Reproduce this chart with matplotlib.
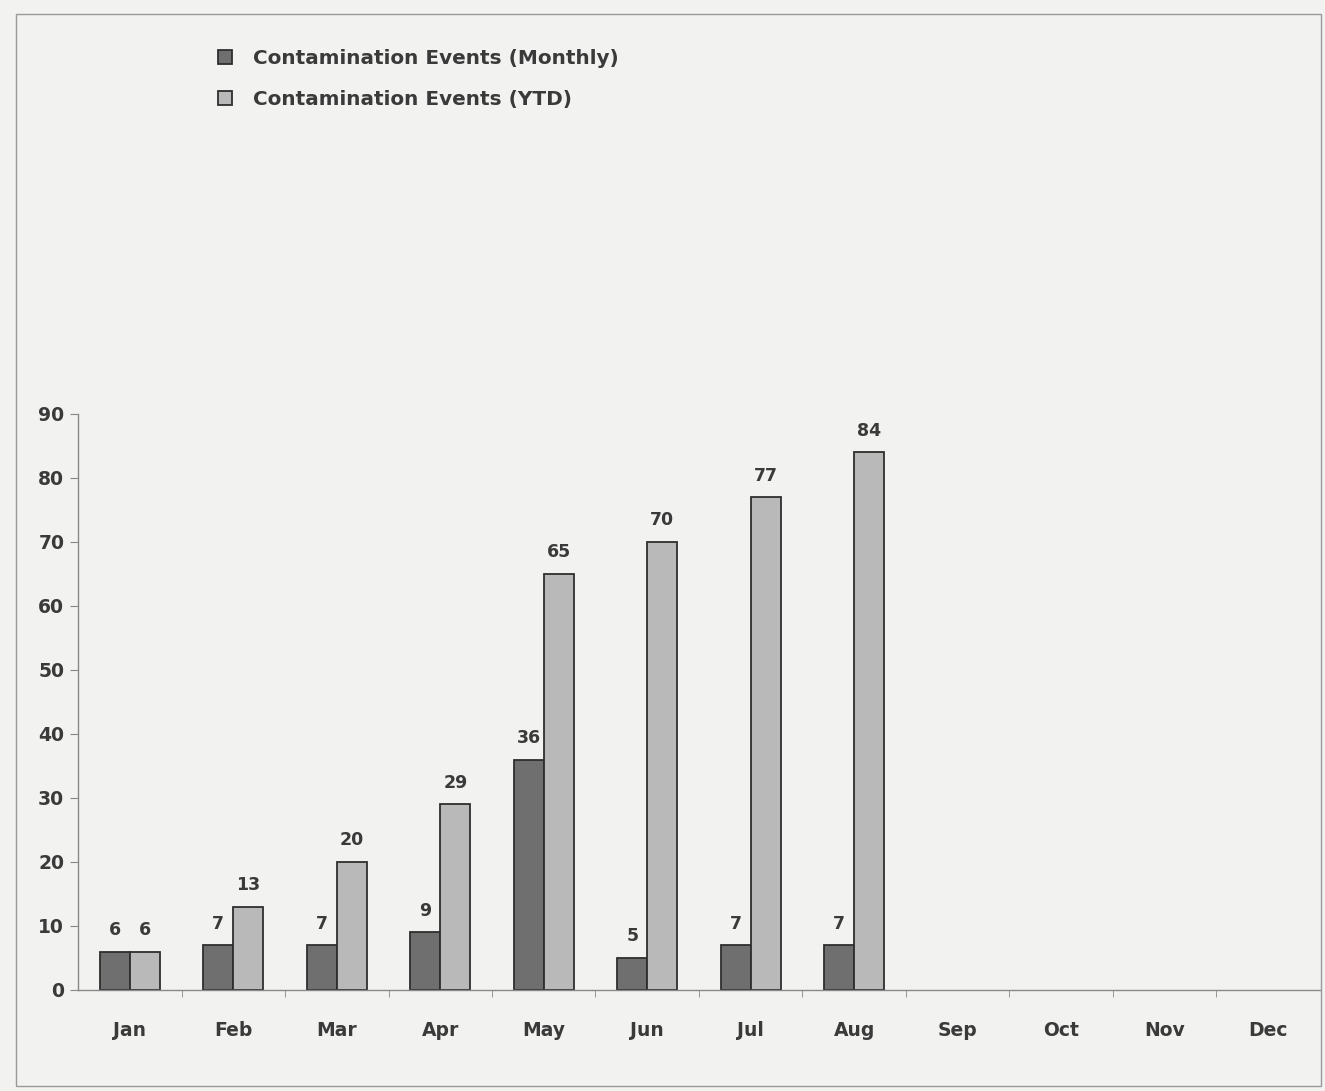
import matplotlib.pyplot as plt
from matplotlib.patches import Rectangle
import numpy as np

# Données
months = ['Jan', 'Feb', 'Mar', 'Apr', 'May', 'Jun', 'Jul', 'Aug', 'Sep', 'Oct', 'Nov', 'Dec']
monthly = [6, 7, 7, 9, 36, 5, 7, 7]
ytd = [6, 13, 20, 29, 65, 70, 77, 84]

plt.rcParams['font.family'] = ['DejaVu Sans']

bg = '#f2f2f0'
txt = '#3a3a3a'
fig = plt.figure(figsize=(13.25, 10.91), dpi=100, facecolor=bg)
ax = fig.add_axes([0.059, 0.0926, 0.937, 0.528], facecolor=bg)

# cadre autour du graphique
fig.patches.append(Rectangle((0.012, 0.005), 0.985, 0.982, transform=fig.transFigure,
                             fill=False, edgecolor='#9a9a9a', lw=1.0))

x = np.arange(len(monthly))
w = 0.29
b1 = ax.bar(x - w / 2, monthly, w, color='#6f6f6f', edgecolor='#2e2e2e', lw=1.3,
            label='Contamination Events (Monthly)')
b2 = ax.bar(x + w / 2, ytd, w, color='#b9b9b9', edgecolor='#2e2e2e', lw=1.3,
            label='Contamination Events (YTD)')

for rects in (b1, b2):
    for r in rects:
        ax.annotate(str(int(r.get_height())), (r.get_x() + r.get_width() / 2, r.get_height()),
                    xytext=(0, 9), textcoords='offset points', ha='center', va='bottom',
                    fontsize=12.5, fontweight='bold', color=txt)

ax.set_xlim(-0.5, 11.5)
ax.set_ylim(0, 90)
ax.set_yticks(range(0, 91, 10))
ax.set_xticks(range(12))
ax.set_xticklabels(months)
ax.set_xticks(np.arange(0.5, 11.5, 1), minor=True)
ax.tick_params(axis='x', which='major', length=0, pad=22, labelsize=13.5, labelcolor=txt)
ax.tick_params(axis='x', which='minor', length=5, color='#888888')
ax.tick_params(axis='y', length=6, color='#888888', pad=4, labelsize=13.5, labelcolor=txt)
for lab in ax.get_xticklabels() + ax.get_yticklabels():
    lab.set_fontweight('bold')

for s in ('top', 'right'):
    ax.spines[s].set_visible(False)
for s in ('left', 'bottom'):
    ax.spines[s].set_color('#888888')
    ax.spines[s].set_linewidth(1.0)

leg = ax.legend(loc='upper left', bbox_to_anchor=(0.151, 0.972), bbox_transform=fig.transFigure,
                frameon=False, fontsize=14.4, handlelength=0.7, handleheight=0.7,
                handletextpad=1.05, labelspacing=1.1)
for t in leg.get_texts():
    t.set_color(txt)
    t.set_fontweight('bold')

plt.savefig('out.png', dpi=100, facecolor=bg)
